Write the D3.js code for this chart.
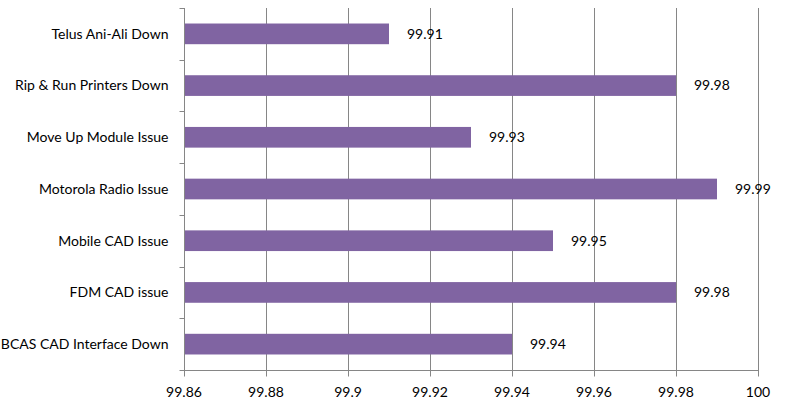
<!DOCTYPE html>
<html><head><meta charset="utf-8">
<script src="https://cdn.jsdelivr.net/npm/d3@7"></script>
<style>body{margin:0;background:#fff}text{font-family:Lato,"Open Sans",sans-serif;fill:#000}</style>
</head><body><svg id="c" width="788" height="408"></svg>
<script>
const categories = ["Telus Ani-Ali Down","Rip & Run Printers Down","Move Up Module Issue","Motorola Radio Issue","Mobile CAD Issue","FDM CAD issue","BCAS CAD Interface Down"];
const values = [99.91, 99.98, 99.93, 99.99, 99.95, 99.98, 99.94];
const xTicks = [99.86, 99.88, 99.9, 99.92, 99.94, 99.96, 99.98, 100];
const tickLabels = ["99.86","99.88","99.9","99.92","99.94","99.96","99.98","100"];

const m = {l:184, r:758, t:8, b:370};
const svg = d3.select("#c");
const x = d3.scaleLinear().domain([99.86,100]).range([m.l,m.r]);
const y = d3.scaleBand().domain(categories).range([m.t,m.b]).paddingInner(0.6).paddingOuter(0.3);
const grid = "#868686";
const fs = 14;

// gridlines
svg.append("g").selectAll("line").data(xTicks.slice(1)).join("line")
  .attr("x1",d=>Math.round(x(d))+0.5).attr("x2",d=>Math.round(x(d))+0.5)
  .attr("y1",m.t).attr("y2",m.b).attr("stroke",grid).attr("stroke-width",1);

// bars
svg.append("g").selectAll("rect").data(categories).join("rect")
  .attr("x",x(99.86)).attr("y",d=>y(d)).attr("height",y.bandwidth())
  .attr("width",(d,i)=>x(values[i])-x(99.86)).attr("fill","#8064A2");

// left axis
const yAxis = svg.append("g").attr("transform",`translate(${m.l+0.5},0)`);
yAxis.append("line").attr("y1",m.t).attr("y2",m.b).attr("stroke",grid);
const step = (m.b-m.t)/categories.length;
yAxis.selectAll("line.t").data(d3.range(categories.length+1)).join("line").attr("class","t")
  .attr("x1",-5).attr("x2",0).attr("y1",i=>Math.round(m.t+i*step)+0.5).attr("y2",i=>Math.round(m.t+i*step)+0.5).attr("stroke",grid);
yAxis.selectAll("text").data(categories).join("text")
  .attr("x",-16).attr("y",d=>y(d)+y.bandwidth()/2).attr("dy","0.35em")
  .attr("text-anchor","end").style("font-size",fs+"px").text(d=>d);

// bottom axis
const xAxis = svg.append("g").attr("transform",`translate(0,${m.b+0.5})`);
xAxis.append("line").attr("x1",m.l).attr("x2",m.r+1).attr("stroke",grid);
xAxis.selectAll("line.t").data(xTicks).join("line").attr("class","t")
  .attr("x1",d=>Math.round(x(d))+0.5).attr("x2",d=>Math.round(x(d))+0.5).attr("y1",0).attr("y2",6).attr("stroke",grid);
xAxis.selectAll("text").data(xTicks).join("text")
  .attr("x",d=>x(d)).attr("y",22).attr("dy","0.35em").attr("text-anchor","middle")
  .style("font-size",fs+"px").text((d,i)=>tickLabels[i]);

// data labels
svg.append("g").selectAll("text").data(categories).join("text")
  .attr("x",(d,i)=>x(values[i])+18).attr("y",d=>y(d)+y.bandwidth()/2).attr("dy","0.35em")
  .style("font-size",fs+"px").text((d,i)=>values[i]);
</script></body></html>
